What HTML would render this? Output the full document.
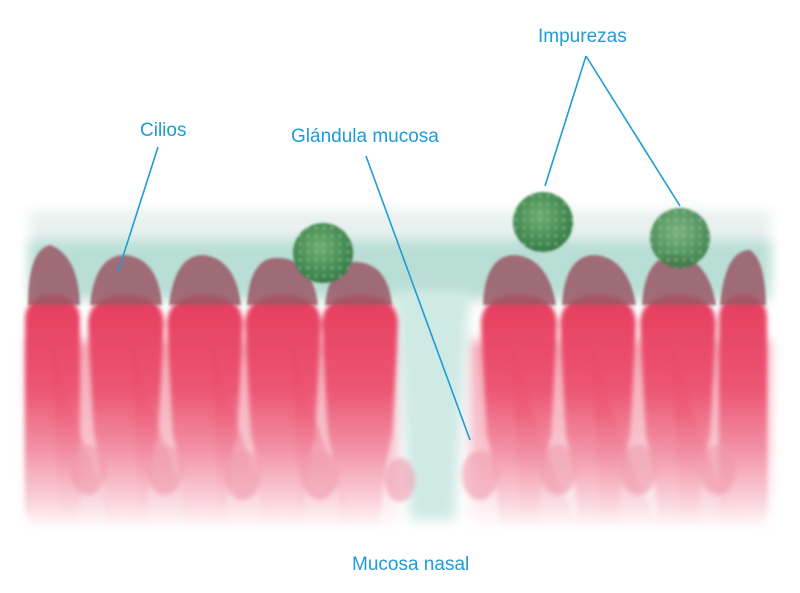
<!DOCTYPE html>
<html><head><style>
html,body{margin:0;padding:0;background:#fff;}
.l{font-family:"Liberation Sans",sans-serif;font-size:19px;fill:#1f9bd6;}
</style></head><body>
<svg width="800" height="588" viewBox="0 0 800 588" xmlns="http://www.w3.org/2000/svg">
<defs>
<filter id="b6" x="-20%" y="-20%" width="140%" height="140%"><feGaussianBlur stdDeviation="6"/></filter>
<filter id="b3"><feGaussianBlur stdDeviation="2.5"/></filter>
<filter id="b1"><feGaussianBlur stdDeviation="1.2"/></filter>
<linearGradient id="cell" x1="0" y1="0" x2="0" y2="1">
<stop offset="0" stop-color="#e63d5e"/><stop offset="0.4" stop-color="#ec5573"/>
<stop offset="0.65" stop-color="#f290a3"/><stop offset="0.88" stop-color="#fad4dc"/><stop offset="1" stop-color="#fff"/></linearGradient>
<linearGradient id="bg" x1="0" y1="0" x2="0" y2="1">
<stop offset="0" stop-color="#f4a3b3"/><stop offset="0.6" stop-color="#f8c6d0"/><stop offset="1" stop-color="#fff"/></linearGradient>
<radialGradient id="g" cx="0.45" cy="0.4" r="0.6"><stop offset="0" stop-color="#6fae72"/><stop offset="1" stop-color="#347d48"/></radialGradient>
<pattern id="sp" width="8" height="8" patternUnits="userSpaceOnUse"><circle cx="4" cy="4" r="1.2" fill="#a9d4a0" opacity="0.7"/></pattern>
<g id="c"><path d="M0 30 Q0 0 38 0 Q76 0 76 30 L70 140 Q60 180 58 235 L18 235 Q16 180 6 140 Z"/></g>
</defs>
<rect x="30" y="210" width="740" height="70" fill="#e8f1ef" filter="url(#b6)"/>
<rect x="30" y="240" width="740" height="60" fill="#b9ded6" filter="url(#b6)"/>
<g filter="url(#b6)">
<rect x="28" y="340" width="370" height="190" fill="url(#bg)"/>
<rect x="470" y="340" width="300" height="190" fill="url(#bg)"/>
</g>
<path d="M395 290 L470 290 L455 520 L410 520 Z" fill="#cfe9e4" filter="url(#b6)"/>
<g filter="url(#b3)">
<g fill="url(#cell)">
<rect x="25" y="295" width="55" height="235" rx="24"/>
<use href="#c" x="88" y="295"/>
<use href="#c" x="167" y="295"/>
<use href="#c" x="245" y="295"/>
<use href="#c" x="322" y="295"/>
<use href="#c" x="481" y="295"/>
<use href="#c" x="560" y="295"/>
<use href="#c" x="640" y="295"/>
<rect x="719" y="295" width="48" height="235" rx="22"/>
<path d="M50 330 Q70 420 120 530 L60 530 Z" opacity="0.5"/>
<path d="M130 330 Q150 420 200 530 L140 530 Z" opacity="0.5"/>
<path d="M210 330 Q230 420 280 530 L220 530 Z" opacity="0.5"/>
<path d="M290 330 Q310 420 360 530 L300 530 Z" opacity="0.5"/>
<path d="M510 330 Q530 420 580 530 L520 530 Z" opacity="0.5"/>
<path d="M590 330 Q610 420 660 530 L600 530 Z" opacity="0.5"/>
<path d="M670 330 Q690 420 740 530 L680 530 Z" opacity="0.5"/>
</g>
<g fill="#f09aac" opacity="0.6">
<ellipse cx="88" cy="470" rx="18" ry="25"/><ellipse cx="165" cy="470" rx="18" ry="25"/>
<ellipse cx="243" cy="475" rx="18" ry="25"/><ellipse cx="320" cy="475" rx="18" ry="25"/>
<ellipse cx="400" cy="480" rx="15" ry="22"/><ellipse cx="480" cy="475" rx="18" ry="25"/>
<ellipse cx="558" cy="470" rx="18" ry="25"/><ellipse cx="638" cy="470" rx="18" ry="25"/>
<ellipse cx="718" cy="470" rx="18" ry="25"/>
</g>
</g>
<g fill="#9a5866" opacity="0.85" filter="url(#b1)">
<path d="M28 305 Q28 250 50 245 Q78 255 80 305 Z"/>
<path d="M90 305 Q95 255 125 255 Q158 258 162 305 Z"/>
<path d="M169 305 Q175 255 203 255 Q235 258 241 305 Z"/>
<path d="M247 305 Q250 255 280 258 Q312 260 318 305 Z"/>
<path d="M325 305 Q330 260 358 262 Q388 265 392 305 Z"/>
<path d="M483 305 Q485 255 515 255 Q548 258 556 305 Z"/>
<path d="M562 305 Q565 255 595 255 Q628 258 636 305 Z"/>
<path d="M642 305 Q645 255 675 255 Q708 258 716 305 Z"/>
<path d="M720 305 Q725 250 750 250 Q765 260 766 305 Z"/>
</g>
<g filter="url(#b1)">
<circle cx="323" cy="253" r="30" fill="url(#g)"/><circle cx="323" cy="253" r="30" fill="url(#sp)"/>
<circle cx="543" cy="222" r="30" fill="url(#g)"/><circle cx="543" cy="222" r="30" fill="url(#sp)"/>
<circle cx="680" cy="238" r="30" fill="url(#g)" opacity="0.9"/><circle cx="680" cy="238" r="30" fill="url(#sp)"/>
</g>
<g stroke="#1f9bd6" stroke-width="1.6" fill="none">
<line x1="158" y1="147" x2="118" y2="272"/>
<line x1="366" y1="156" x2="470" y2="440"/>
<line x1="586" y1="56" x2="545" y2="186"/>
<line x1="586" y1="56" x2="680" y2="206"/>
</g>
<text class="l" x="140" y="136">Cilios</text>
<text class="l" x="291" y="142">Glándula mucosa</text>
<text class="l" x="538" y="42">Impurezas</text>
<text class="l" x="352" y="570">Mucosa nasal</text>
</svg>
</body></html>
